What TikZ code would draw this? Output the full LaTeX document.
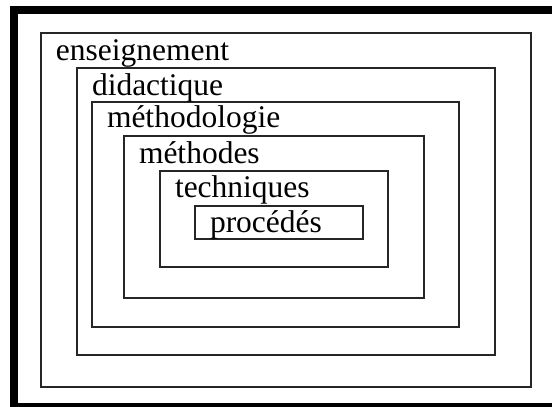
\documentclass[tikz,border=0pt]{standalone}
\usepackage{fontspec}
\setmainfont{Liberation Serif}
\begin{document}
\begin{tikzpicture}[x=1pt,y=-1pt,
  box/.style={draw=black!85,line width=1.2pt,inner sep=0pt,outer sep=0pt,anchor=north west},
  lbl/.style={inner sep=0pt,outer sep=0pt,anchor=base west,font=\fontsize{31.5}{36}\selectfont}]
\useasboundingbox (0,0) rectangle (552,407);
\clip (0,0) rectangle (552,407);
\draw[line width=8pt] (14,10) rectangle (560,407);
\node[box,minimum width=490pt,minimum height=354pt] (b1) at (41,33) {};
\node[box,minimum width=418pt,minimum height=287pt] (b2) at (77,68) {};
\node[box,minimum width=367pt,minimum height=225pt] (b3) at (92,102) {};
\node[box,minimum width=300pt,minimum height=162pt] (b4) at (124,136) {};
\node[box,minimum width=228pt,minimum height=96pt] (b5) at (160,171) {};
\node[box,minimum width=168pt,minimum height=33pt] (b6) at (195,206) {};
\node[lbl] (t1) at (56,60) {enseignement};
\node[lbl] (t2) at (92,95) {didactique};
\node[lbl] (t3) at (107,127) {méthodologie};
\node[lbl] (t4) at (139,163) {méthodes};
\node[lbl] (t5) at (175,197) {techniques};
\node[lbl] (t6) at (210,232) {procédés};
\end{tikzpicture}
\end{document}
